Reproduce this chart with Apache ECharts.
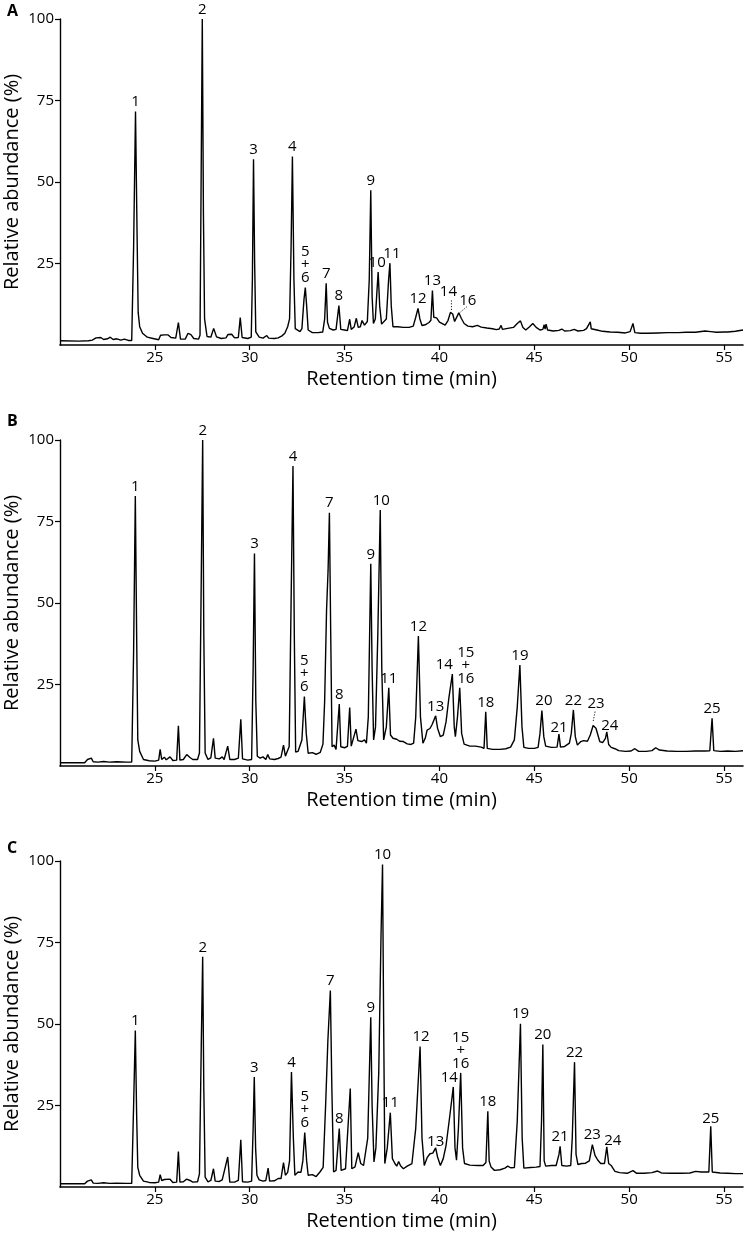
<!DOCTYPE html>
<html><head><meta charset="utf-8">
<script src="https://cdn.jsdelivr.net/npm/echarts@6/dist/echarts.min.js"></script>
<style>html,body{margin:0;padding:0;background:#fff}#c{width:749px;height:1240px}</style>
</head><body><div id="c"></div>
<script>
// ---------- data ----------
const X_TICKS = [25, 30, 35, 40, 45, 50, 55];
const Y_TICKS = [25, 50, 75, 100];
const PANEL_LETTERS = ['A', 'B', 'C'];
const X_TITLE = 'Retention time (min)';
const Y_TITLE = 'Relative abundance (%)';

// [retention time (min), relative abundance (%)]
const TRACE_A = [[20.0,1.3],[21.0,1.2],[21.5,1.3],[21.6,1.9],[21.7,1.5],[21.9,2.2],[22.0,1.6],[22.15,2.3],[22.3,1.7],[22.5,1.9],[22.65,2.4],[22.8,1.7],[23.0,1.9],[23.2,1.5],[23.4,1.8],[23.6,1.4],[23.78,1.4],[23.88,30],[23.98,71.6],[24.06,35],[24.12,10],[24.2,5.6],[24.35,3.6],[24.6,2.4],[24.9,2.0],[25.2,1.6],[25.3,3.0],[25.4,2.7],[25.5,3.1],[25.6,2.5],[25.7,3.1],[25.85,2.3],[26.1,2.1],[26.24,6.9],[26.35,1.8],[26.6,1.8],[26.75,3.6],[26.9,3.2],[27.05,2.0],[27.3,1.8],[27.38,3],[27.45,60],[27.5,100],[27.56,40],[27.62,8],[27.75,2.6],[27.95,2.4],[28.1,5.1],[28.25,2.5],[28.5,2.0],[28.75,2.2],[28.85,3.2],[28.95,2.6],[29.05,3.3],[29.2,2.2],[29.4,2.3],[29.5,8.4],[29.6,2.3],[29.9,2.0],[30.08,2.4],[30.14,20],[30.2,57.0],[30.26,25],[30.32,4],[30.5,2.4],[30.7,2.1],[30.9,2.9],[31.0,2.1],[31.3,2.0],[31.5,2.2],[31.7,2.8],[31.85,3.6],[32.0,5.6],[32.1,8],[32.18,30],[32.25,57.8],[32.33,20],[32.4,5],[32.5,4.6],[32.65,4.1],[32.75,5.0],[32.86,14],[32.93,17.6],[33.0,12],[33.08,4.6],[33.3,3.8],[33.6,3.8],[33.85,4.0],[33.95,8],[34.03,18.9],[34.1,7],[34.2,5.1],[34.4,4.6],[34.55,4.8],[34.7,12.1],[34.8,4.8],[35.0,4.6],[35.15,4.4],[35.27,7.9],[35.35,4.8],[35.5,5.5],[35.62,8.2],[35.72,5.4],[35.83,5.6],[35.92,7.5],[36.05,6.1],[36.2,7.2],[36.3,20],[36.38,47.5],[36.45,15],[36.52,6.6],[36.62,8],[36.7,16],[36.77,22.4],[36.85,12],[36.95,6.4],[37.05,6.1],[37.2,8],[37.32,20],[37.39,25.1],[37.46,12],[37.55,5.6],[37.8,5.6],[38.1,5.4],[38.4,5.4],[38.62,5.8],[38.75,8.5],[38.87,11.2],[38.97,8.0],[39.08,6.0],[39.25,6.2],[39.45,6.9],[39.55,7.6],[39.63,16.7],[39.7,8.5],[39.85,8.3],[40.0,7.0],[40.3,6.1],[40.45,7.5],[40.58,10.0],[40.7,9.5],[40.8,7.2],[40.95,9.0],[41.02,9.9],[41.15,8.2],[41.3,6.6],[41.5,5.8],[41.75,5.6],[42.0,6.0],[42.2,5.5],[42.5,5.2],[42.8,5.0],[43.0,4.7],[43.15,4.9],[43.25,6.0],[43.32,4.8],[43.6,5.1],[43.9,5.4],[44.1,6.6],[44.27,7.4],[44.4,5.4],[44.55,4.6],[44.75,5.6],[44.92,6.6],[45.1,5.4],[45.3,4.6],[45.45,4.8],[45.52,6.2],[45.57,4.9],[45.62,6.4],[45.7,4.6],[46.0,4.3],[46.3,4.5],[46.45,4.9],[46.6,4.3],[46.9,4.4],[47.1,4.8],[47.3,4.3],[47.6,4.5],[47.75,5.0],[47.85,5.6],[47.95,7.1],[48.0,5.0],[48.1,5.6],[48.3,4.6],[48.6,4.2],[49.0,4.0],[49.4,3.9],[49.8,3.7],[50.05,4.1],[50.2,6.6],[50.3,3.8],[50.6,3.6],[51.0,3.6],[51.5,3.7],[52.0,3.8],[52.1,4.3],[52.2,3.8],[52.6,3.8],[53.0,3.9],[53.5,3.9],[54.0,4.3],[54.3,4.1],[54.6,3.9],[55.0,4.0],[55.1,4.6],[55.2,4.0],[55.6,4.2],[56.0,4.6]];

const TRACE_B = [[20.0,1.0],[21.3,1.0],[21.45,2.0],[21.55,1.5],[21.65,2.4],[21.75,1.3],[22.0,1.2],[22.3,1.4],[22.6,1.2],[23.0,1.3],[23.5,1.2],[23.78,1.2],[23.88,35],[23.97,82.8],[24.04,40],[24.1,8],[24.2,4.5],[24.4,2.0],[24.7,1.6],[25.0,1.5],[25.2,1.8],[25.28,5.1],[25.36,2.0],[25.5,2.7],[25.6,1.9],[25.8,2.8],[25.95,1.7],[26.15,1.8],[26.24,12.3],[26.32,1.8],[26.5,2.0],[26.68,3.5],[26.85,2.6],[27.0,2.0],[27.25,2.0],[27.35,4],[27.45,60],[27.52,100],[27.58,40],[27.65,4],[27.8,2.0],[27.95,2.5],[28.09,8.5],[28.18,2.4],[28.4,2.2],[28.55,2.8],[28.65,2.0],[28.84,6.1],[28.95,2.0],[29.2,2.0],[29.4,2.4],[29.53,14.3],[29.62,2.2],[29.9,1.8],[30.1,2.0],[30.18,30],[30.25,65.2],[30.32,20],[30.4,3],[30.55,2.4],[30.7,2.8],[30.85,2.0],[30.95,3.5],[31.05,2.2],[31.3,2.0],[31.5,2.3],[31.65,2.7],[31.78,6.4],[31.88,3.0],[32.08,6],[32.18,50],[32.28,92.0],[32.35,40],[32.42,4.3],[32.55,4.5],[32.65,5.0],[32.75,8],[32.88,21.3],[32.98,10],[33.08,3.9],[33.3,4.1],[33.5,3.6],[33.72,4.2],[33.86,6.7],[33.95,20],[34.05,47.9],[34.13,60],[34.2,77.7],[34.27,40],[34.34,5.9],[34.45,6.4],[34.55,5.1],[34.72,19.0],[34.8,5.9],[35.0,5.6],[35.15,6.0],[35.27,17.9],[35.35,6.1],[35.45,6.0],[35.6,11.3],[35.7,7.8],[35.8,8.0],[35.9,7.5],[36.05,8.0],[36.15,7.0],[36.25,15],[36.38,62.0],[36.45,30],[36.53,8.0],[36.63,12],[36.75,40],[36.88,78.5],[36.96,30],[37.06,8.0],[37.2,12],[37.33,24.0],[37.42,9.5],[37.55,8.5],[37.75,8.2],[37.9,7.6],[38.1,7.5],[38.3,6.8],[38.5,6.6],[38.64,7.0],[38.75,15],[38.89,39.9],[39.0,15],[39.13,7.0],[39.25,8.5],[39.35,11],[39.5,11.5],[39.62,12.8],[39.8,15.4],[39.9,11.6],[40.05,9.0],[40.2,9.5],[40.35,13.6],[40.5,21],[40.68,28.2],[40.78,12],[40.84,9.0],[40.95,15],[41.07,24.0],[41.17,10],[41.3,6.7],[41.6,6.1],[41.9,6.1],[42.2,5.8],[42.35,5.4],[42.44,16.6],[42.52,5.4],[42.8,5.1],[43.2,5.1],[43.5,5.3],[43.75,5.8],[43.95,8.0],[44.1,18],[44.24,31.0],[44.35,12],[44.45,5.7],[44.7,5.4],[45.0,5.4],[45.2,5.7],[45.3,10],[45.4,17.0],[45.5,9],[45.6,6.1],[45.9,5.7],[46.2,5.8],[46.3,9.8],[46.38,5.8],[46.6,6.0],[46.85,7.0],[46.95,10],[47.06,17.2],[47.16,9],[47.27,6.4],[47.45,7.5],[47.6,7.8],[47.8,7.6],[47.95,9.5],[48.1,12.4],[48.25,11.6],[48.45,7.5],[48.6,7.2],[48.75,8.5],[48.82,10.5],[48.92,6.6],[49.05,5.7],[49.15,6.2],[49.25,5.3],[49.45,4.7],[49.8,4.5],[50.1,4.6],[50.3,5.3],[50.5,4.5],[50.9,4.5],[51.2,4.7],[51.4,5.6],[51.6,4.9],[52.0,4.6],[52.5,4.5],[53.0,4.5],[53.5,4.6],[54.0,4.6],[54.25,4.7],[54.37,14.6],[54.46,4.7],[54.8,4.5],[55.2,4.6],[55.6,4.5],[56.0,4.7]];

const TRACE_C = [[20.0,1.0],[21.3,1.0],[21.45,1.8],[21.55,1.4],[21.65,2.2],[21.75,1.2],[22.0,1.1],[22.3,1.3],[22.6,1.1],[23.0,1.2],[23.5,1.1],[23.78,1.1],[23.88,25],[23.97,48.0],[24.04,22],[24.1,6],[24.2,3.6],[24.4,1.8],[24.7,1.4],[25.0,1.3],[25.2,1.5],[25.28,3.8],[25.36,2.0],[25.5,2.3],[25.6,1.7],[25.8,2.4],[25.95,1.4],[26.15,1.5],[26.24,10.9],[26.32,1.5],[26.5,1.6],[26.68,2.4],[26.85,2.0],[27.0,1.5],[27.25,1.6],[27.35,4],[27.45,45],[27.52,70.6],[27.58,30],[27.65,3],[27.8,1.6],[27.95,2.0],[28.09,5.6],[28.18,1.8],[28.4,1.7],[28.55,2.2],[28.65,1.6],[28.84,9.2],[28.95,1.5],[29.2,1.5],[29.4,2.0],[29.53,14.5],[29.62,1.6],[29.9,1.5],[30.1,1.8],[30.18,18],[30.24,33.7],[30.31,12],[30.38,3.6],[30.5,2.2],[30.7,1.8],[30.85,2.0],[30.97,5.8],[31.05,1.8],[31.3,1.9],[31.5,2.6],[31.65,2.6],[31.78,7.5],[31.88,3.6],[32.0,4.5],[32.1,8],[32.2,35.3],[32.3,15],[32.38,3.6],[32.55,4.6],[32.7,4.5],[32.8,8],[32.9,16.7],[33.0,8],[33.08,3.6],[33.3,3.8],[33.5,3.2],[33.7,4.6],[33.87,6],[34.0,25],[34.12,45],[34.25,60.3],[34.33,30],[34.42,4.6],[34.55,5.1],[34.72,17.9],[34.82,5.1],[35.05,5.6],[35.3,30.2],[35.38,5.6],[35.55,6.2],[35.72,10.5],[35.85,7.2],[36.0,6.6],[36.1,6.1],[36.22,15],[36.38,52.1],[36.45,25],[36.55,7.7],[36.65,12],[36.8,35],[36.92,77.0],[37.0,98.9],[37.06,50],[37.12,7.2],[37.25,12],[37.41,22.8],[37.52,8.7],[37.65,7.2],[37.75,6.4],[37.85,7.8],[37.95,6.5],[38.1,5.6],[38.3,6.4],[38.55,7.2],[38.75,18],[38.98,43.1],[39.08,15],[39.2,6.6],[39.35,9.0],[39.5,10.2],[39.65,10.4],[39.8,12.0],[39.9,9.2],[40.05,6.6],[40.2,8.7],[40.35,12.8],[40.55,22],[40.73,30.7],[40.82,12],[40.9,8.2],[41.0,18],[41.12,35.0],[41.22,12],[41.32,7.2],[41.6,6.7],[42.0,6.6],[42.3,6.6],[42.45,7.5],[42.55,23.2],[42.62,8],[42.72,6.1],[42.9,5.1],[43.2,5.3],[43.45,5.8],[43.6,6.4],[43.75,5.9],[43.95,6.0],[44.1,20],[44.27,50.1],[44.36,15],[44.45,5.8],[44.8,6.0],[45.1,6.1],[45.3,6.3],[45.38,20],[45.45,43.7],[45.52,8],[45.6,6.4],[45.9,6.6],[46.15,6.6],[46.3,10],[46.36,12.5],[46.45,6.6],[46.7,6.4],[46.92,6.6],[47.0,15],[47.12,38.3],[47.2,10],[47.3,6.9],[47.5,7.2],[47.7,7.3],[47.9,8.0],[48.06,13.0],[48.2,9.7],[48.35,8.2],[48.5,7.2],[48.7,7.2],[48.82,12.3],[48.92,7.2],[49.05,6.6],[49.15,6.8],[49.25,4.8],[49.5,4.4],[49.9,4.2],[50.2,5.0],[50.4,4.2],[50.8,4.2],[51.2,4.4],[51.5,4.9],[51.7,4.3],[52.2,4.2],[52.7,4.2],[53.2,4.3],[53.5,4.8],[53.8,4.6],[54.2,4.6],[54.3,18.6],[54.38,4.6],[54.8,4.3],[55.2,4.2],[55.6,4.1],[56.0,4.1]];

// peak labels: [label text, retention time of peak]
const PEAKS_A = [['1',23.98],['2',27.5],['3',30.2],['4',32.25],['5\n+\n6',32.93],['7',34.03],['8',34.7],['9',36.38],['10',36.77],['11',37.39],['12',38.87],['13',39.63],['14',40.58],['16',41.02]];
const PEAKS_B = [['1',23.97],['2',27.52],['3',30.25],['4',32.28],['5\n+\n6',32.88],['7',34.2],['8',34.72],['9',36.38],['10',36.88],['11',37.33],['12',38.89],['13',39.8],['14',40.68],['15\n+\n16',41.07],['18',42.44],['19',44.24],['20',45.4],['21',46.3],['22',47.06],['23',48.1],['24',48.82],['25',54.37]];
const PEAKS_C = [['1',23.97],['2',27.52],['3',30.24],['4',32.2],['5\n+\n6',32.9],['7',34.25],['8',34.72],['9',36.38],['10',37.0],['11',37.41],['12',38.98],['13',39.8],['14',40.73],['15\n+\n16',41.12],['18',42.55],['19',44.27],['20',45.45],['21',46.36],['22',47.12],['23',48.06],['24',48.82],['25',54.3]];

const TRACES = [TRACE_A, TRACE_B, TRACE_C];
const PEAKS = [PEAKS_A, PEAKS_B, PEAKS_C];

// ---------- layout / style ----------
const GRID_TOPS = [19, 440, 861];
const GRID_H = 326;
const GRID_LEFT = 60;
const GRID_W = 683;
const LETTER_Y = [12, 422, 849];
const FONT = '"Open Sans", "Noto Sans", sans-serif';
// per-label pixel nudges [dx, dy] and optional dotted leader [x1,y1,x2,y2] relative to apex
const LABEL_STYLE = [
  {'10':{dx:-1},'11':{dx:2},'14':{dx:-2,dy:-11,leader:[1,-12,1,-1]},'16':{dx:9,dy:-2,leader:[8,-6,1,0]}},
  {'10':{dx:1},'14':{dx:-8},'15\n+\n16':{dx:6},'20':{dx:2},'21':{dy:3},'23':{dx:3,dy:-12,leader:[2,-14,0,-4]},'24':{dx:3,dy:3}},
  {'14':{dx:-4},'24':{dx:6,dy:3},'13':{dy:3},'25':{dy:2},'12':{dx:1}}
];

function apexOf(trace, t) {
  let best = null;
  for (const p of trace) {
    if (Math.abs(p[0] - t) <= 0.08 && (best === null || p[1] > best[1])) best = p;
  }
  return best ? best[1] : 0;
}

const chart = echarts.init(document.getElementById('c'), null, {renderer: 'canvas'});

const grids = [], xAxes = [], yAxes = [], series = [], graphics = [];
for (let i = 0; i < 3; i++) {
  grids.push({left: GRID_LEFT, top: GRID_TOPS[i], width: GRID_W, height: GRID_H,
              containLabel: false, outerBoundsMode: 'none'});
  xAxes.push({
    type: 'value', gridIndex: i, min: 20, max: 56, interval: 5,
    name: X_TITLE, nameLocation: 'middle', nameGap: 24, nameMoveOverlap: false,
    nameTextStyle: {fontSize: 20, color: '#000', fontFamily: FONT},
    axisLine: {show: true, onZero: false, lineStyle: {color: '#000', width: 1.6}},
    axisTick: {show: true, length: 5, lineStyle: {color: '#000', width: 1.2}, customValues: X_TICKS},
    axisLabel: {color: '#000', fontSize: 15, fontFamily: FONT, margin: 5, customValues: X_TICKS},
    splitLine: {show: false}
  });
  yAxes.push({
    type: 'value', gridIndex: i, min: 0, max: 100, interval: 25,
    name: Y_TITLE, nameLocation: 'middle', nameGap: 38, nameMoveOverlap: false,
    nameTextStyle: {fontSize: 20, color: '#000', fontFamily: FONT},
    axisLine: {show: true, onZero: false, lineStyle: {color: '#000', width: 1.4}},
    axisTick: {show: true, length: 5, lineStyle: {color: '#000', width: 1.2}, customValues: Y_TICKS},
    axisLabel: {color: '#000', fontSize: 15, fontFamily: FONT, margin: 6, customValues: Y_TICKS},
    splitLine: {show: false}
  });
  series.push({
    type: 'line', xAxisIndex: i, yAxisIndex: i, data: TRACES[i],
    showSymbol: false, symbol: 'none', clip: false, silent: true,
    lineStyle: {color: '#000', width: 1.4}, animation: false
  });
  const peaks = PEAKS[i];
  const styleMap = LABEL_STYLE[i];
  series.push({
    type: 'custom', xAxisIndex: i, yAxisIndex: i, clip: false, silent: true, animation: false,
    data: peaks.map(p => [p[1], apexOf(TRACES[i], p[1])]),
    renderItem: function (params, api) {
      const pt = api.coord([api.value(0), api.value(1)]);
      const txt = peaks[params.dataIndex][0];
      const st = styleMap[txt] || {};
      const dx = st.dx || 0, dy = st.dy || 0;
      const children = [{
        type: 'text',
        style: {
          text: txt, x: pt[0] + dx, y: pt[1] - 3 + dy,
          align: 'center', verticalAlign: 'bottom',
          fontSize: 15, fontFamily: FONT, fill: '#000', lineHeight: 13
        }
      }];
      if (st.leader) {
        const l = st.leader;
        children.push({
          type: 'line',
          shape: {x1: pt[0] + l[0], y1: pt[1] + l[1], x2: pt[0] + l[2], y2: pt[1] + l[3]},
          style: {stroke: '#000', lineWidth: 0.9, lineDash: [1.2, 1.6]}
        });
      }
      return {type: 'group', children: children};
    }
  });
  graphics.push({
    type: 'text', left: 7, top: LETTER_Y[i] - 9,
    style: {text: PANEL_LETTERS[i], fontSize: 16, fontWeight: 'bold', fontFamily: FONT, fill: '#000'}
  });
}

chart.setOption({
  animation: false,
  backgroundColor: '#fff',
  grid: grids, xAxis: xAxes, yAxis: yAxes, series: series, graphic: graphics
});
</script></body></html>
